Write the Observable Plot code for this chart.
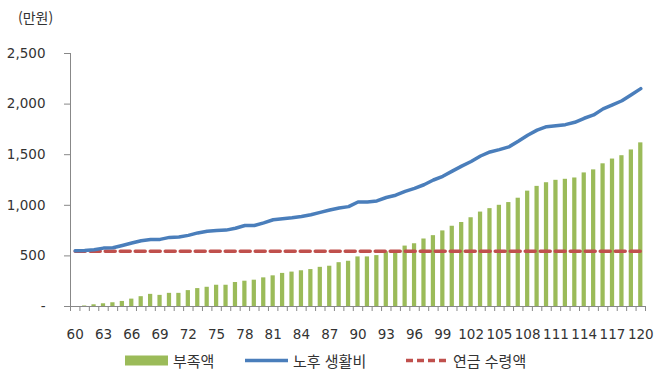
<!DOCTYPE html>
<html lang="ko">
<head>
<meta charset="utf-8">
<script src="https://cdn.jsdelivr.net/npm/d3@7"></script>
<script src="https://cdn.jsdelivr.net/npm/@observablehq/plot@0.6"></script>
<style>
  html, body { margin: 0; padding: 0; background: #fff; }
  #wrap { position: relative; width: 655px; height: 372px; font-family: "DejaVu Sans", sans-serif; color: #333; }
  #unit { position: absolute; left: 18px; top: 7px; font: 14px "Noto Sans CJK KR", sans-serif; color: #333; }
  .item { position: absolute; top: 350px; height: 20px; display: flex; align-items: center; font: 15px "Noto Sans CJK KR", sans-serif; color: #333; }
  .item svg { margin-right: 5px; }
</style>
</head>
<body>
<div id="wrap">
  <div id="unit">(만원)</div>
  <div id="chart"></div>
  <div class="item" style="left:125px"><svg width="43" height="11"><rect x="0" y="0.5" width="43" height="10" fill="#9BBB59"/></svg>부족액</div>
  <div class="item" style="left:245px"><svg width="43" height="11"><line x1="0" x2="43" y1="5.5" y2="5.5" stroke="#4A7EBB" stroke-width="3.5"/></svg>노후 생활비</div>
  <div class="item" style="left:405px"><svg width="43" height="11"><line x1="1" x2="41" y1="5.5" y2="5.5" stroke="#C0504D" stroke-width="3.5" stroke-dasharray="7,4"/></svg>연금 수령액</div>
</div>
<script>
// Ages 60..120
const ages = d3.range(60, 121);
// Shortfall (만원) per age
const deficit = [0, 5, 17, 27, 37, 50, 73, 97, 120, 110,
  130, 130, 157, 177, 190, 210, 210, 237, 250, 260,
  283, 303, 327, 340, 353, 365, 387, 398, 433, 447,
  490, 490, 503, 540, 553, 597, 620, 667, 700, 747,
  793, 830, 877, 933, 967, 1000, 1027, 1070, 1140, 1187,
  1223, 1247, 1257, 1270, 1320, 1350, 1410, 1457, 1490, 1547,
  1617];
// Living cost in retirement (만원) per age
const livingCost = [550, 553, 560, 577, 580, 603, 627, 650, 663, 663,
  683, 687, 703, 727, 743, 750, 755, 773, 800, 800,
  827, 857, 867, 877, 890, 907, 930, 953, 973, 987,
  1033, 1033, 1043, 1077, 1100, 1137, 1167, 1203, 1250, 1287,
  1338, 1387, 1433, 1487, 1527, 1550, 1577, 1633, 1693, 1743,
  1777, 1787, 1797, 1820, 1860, 1893, 1953, 1993, 2033, 2093,
  2153];
// Annual pension received (만원)
const pensionAmount = 545;
// Axis ticks
const xLabelAges = d3.range(60, 121, 3);
const yTicks = [0, 500, 1000, 1500, 2000, 2500];

const rows = ages.map((age, i) => ({age, deficit: deficit[i], cost: livingCost[i], pension: pensionAmount}));

const width = 655, height = 345;
const marginLeft = 70, marginRight = 10;
const step = (width - marginLeft - marginRight) / ages.length;

const chart = Plot.plot({
  width, height,
  marginLeft, marginRight, marginTop: 53, marginBottom: 39,
  style: {fontFamily: "DejaVu Sans, sans-serif", fontSize: "13.5px", color: "#333", background: "#fff"},
  x: {type: "band", domain: ages, paddingInner: 0.55, paddingOuter: 0.275, round: false, label: null},
  y: {domain: [0, 2500], label: null},
  marks: [
    Plot.barY(rows, {x: "age", y: "deficit", fill: "#9BBB59"}),
    // axis lines
    Plot.ruleY([0], {stroke: "#888", strokeWidth: 1}),
    Plot.ruleX([ages[0]], {y1: 0, y2: 2500, dx: -step / 2, stroke: "#888"}),
    // y axis
    Plot.axisY({ticks: yTicks, tickSize: 6, tickPadding: 19, stroke: "#888",
      tickFormat: d => d === 0 ? "-" : d3.format(",")(d)}),
    // x ticks at category boundaries
    Plot.axisX({ticks: ages, tickSize: 5, dx: -step / 2, tickFormat: () => "", stroke: "#888"}),
    Plot.axisX({ticks: [ages[ages.length - 1]], tickSize: 5, dx: step / 2, tickFormat: () => "", stroke: "#888"}),
    // x labels every third age
    Plot.axisX({ticks: xLabelAges, tickSize: 0, tickPadding: 23}),
    Plot.line(rows, {x: "age", y: "pension", stroke: "#C0504D", strokeWidth: 3.5, strokeDasharray: "10,5"}),
    Plot.line(rows, {x: "age", y: "cost", stroke: "#4A7EBB", strokeWidth: 3.5, strokeLinejoin: "round", strokeLinecap: "round"})
  ]
});
document.getElementById("chart").appendChild(chart);
</script>
</body>
</html>
